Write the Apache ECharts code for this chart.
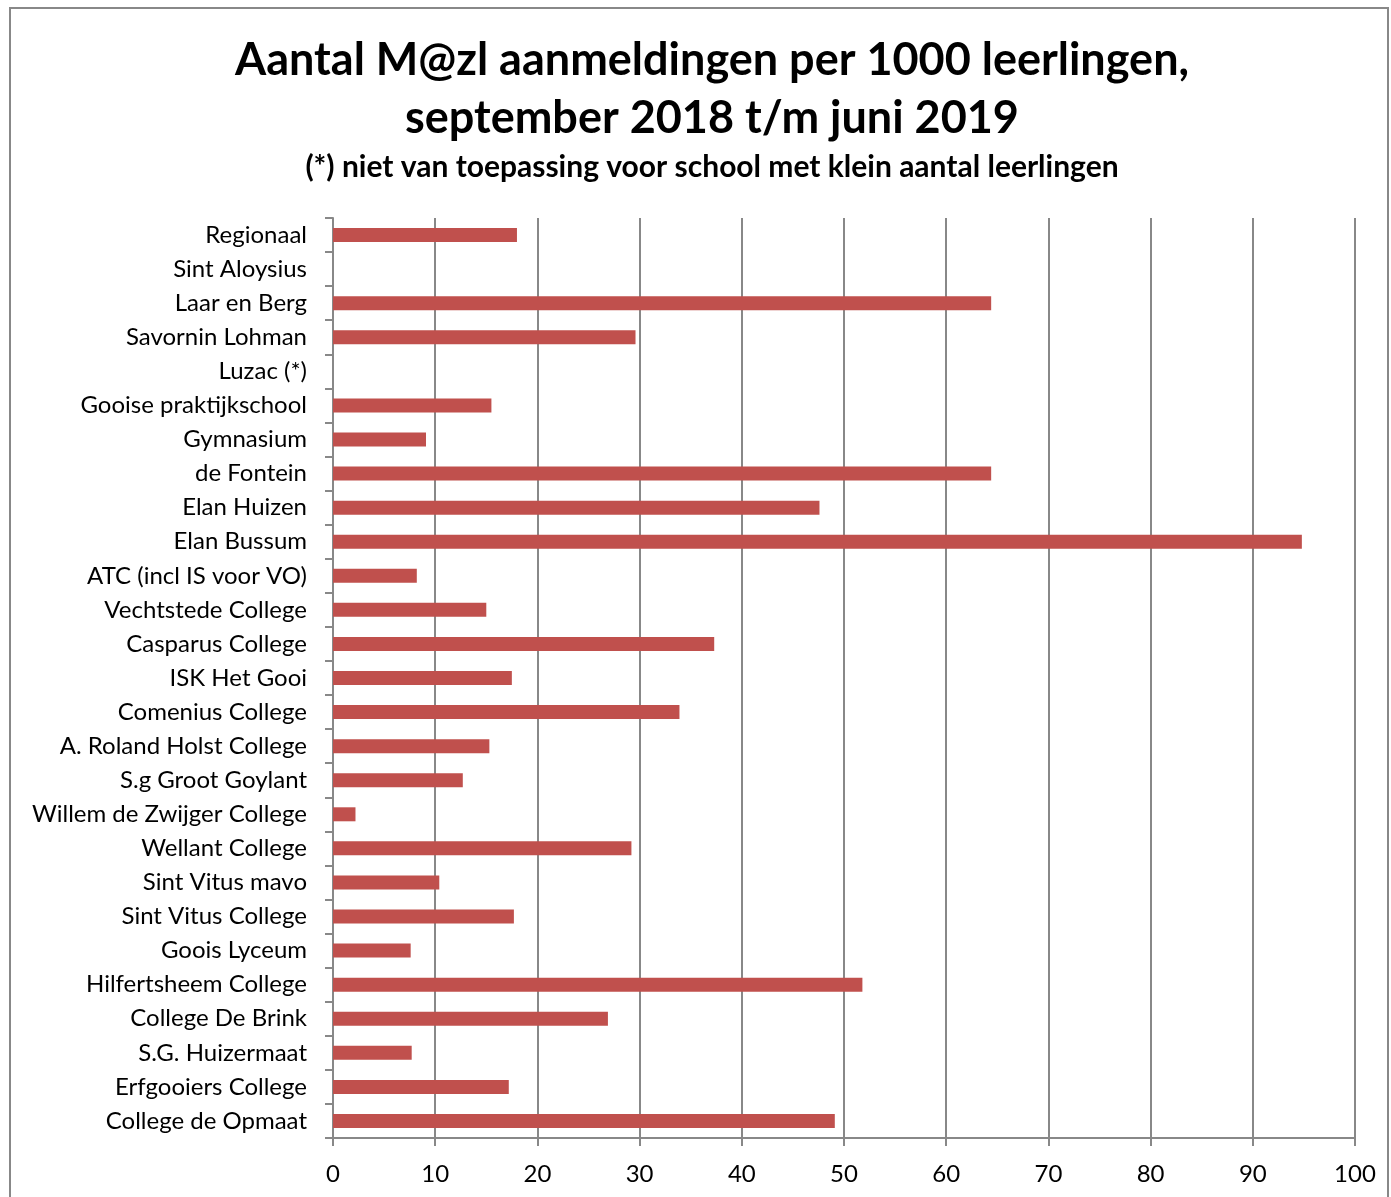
<!DOCTYPE html>
<html>
<head>
<meta charset="utf-8">
<script src="https://cdn.jsdelivr.net/npm/echarts@6/dist/echarts.min.js"></script>
<style>
  html, body { margin: 0; padding: 0; background: #fff; }
  #chart { width: 1391px; height: 1197px; }
</style>
</head>
<body>
<div id="chart"></div>
<script>
const schools = [
  'Regionaal', 'Sint Aloysius', 'Laar en Berg', 'Savornin Lohman', 'Luzac (*)',
  'Gooise praktijkschool', 'Gymnasium', 'de Fontein', 'Elan Huizen', 'Elan Bussum',
  'ATC (incl IS voor VO)', 'Vechtstede College', 'Casparus College', 'ISK Het Gooi',
  'Comenius College', 'A. Roland Holst College', 'S.g Groot Goylant',
  'Willem de Zwijger College', 'Wellant College', 'Sint Vitus mavo',
  'Sint Vitus College', 'Goois Lyceum', 'Hilfertsheem College', 'College De Brink',
  'S.G. Huizermaat', 'Erfgooiers College', 'College de Opmaat'
]
const perThousand = [
  18.0, null, 64.4, 29.6, null,
  15.5, 9.1, 64.4, 47.6, 94.8,
  8.2, 15.0, 37.3, 17.5,
  33.9, 15.3, 12.7,
  2.2, 29.2, 10.4,
  17.7, 7.6, 51.8, 26.9,
  7.7, 17.2, 49.1
]
const xTicks = [0, 100, 10]

const font = 'Lato, "Open Sans", sans-serif'
const myChart = echarts.init(document.getElementById('chart'))

myChart.setOption({
  animation: false,
  graphic: [
    {
      type: 'rect',
      shape: { x: 10, y: 8, width: 1378, height: 1200 },
      style: { fill: 'none', stroke: '#888', lineWidth: 2 },
      silent: true
    }
  ],
  title: {
    text: 'Aantal M@zl aanmeldingen per 1000 leerlingen,\nseptember 2018 t/m juni 2019',
    subtext: '(*) niet van toepassing voor school met klein aantal leerlingen',
    left: 707,
    top: 26,
    textAlign: 'center',
    itemGap: 5,
    textStyle: {
      fontFamily: font,
      fontSize: 45,
      fontWeight: 'bold',
      color: '#000',
      lineHeight: 58
    },
    subtextStyle: {
      fontFamily: font,
      fontSize: 30,
      fontWeight: 'bold',
      color: '#000'
    }
  },
  grid: {
    left: 333,
    right: 36,
    top: 218,
    bottom: 59
  },
  xAxis: {
    type: 'value',
    min: xTicks[0],
    max: xTicks[1],
    interval: xTicks[2],
    axisLine: { show: true, lineStyle: { color: '#888', width: 2 } },
    axisTick: { show: true, length: 8, lineStyle: { color: '#888', width: 2 } },
    splitLine: { show: true, lineStyle: { color: '#888', width: 2 } },
    axisLabel: {
      fontFamily: font,
      fontSize: 24,
      color: '#000',
      margin: 24
    }
  },
  yAxis: {
    type: 'category',
    inverse: true,
    data: schools,
    axisLine: { show: true, lineStyle: { color: '#888', width: 2 } },
    axisTick: { show: true, length: 8, lineStyle: { color: '#888', width: 2 } },
    axisLabel: {
      fontFamily: font,
      fontSize: 24,
      color: '#000',
      margin: 26
    }
  },
  series: [
    {
      type: 'bar',
      data: perThousand,
      barWidth: 14,
      itemStyle: { color: '#C0504D' }
    }
  ]
})
</script>
</body>
</html>
